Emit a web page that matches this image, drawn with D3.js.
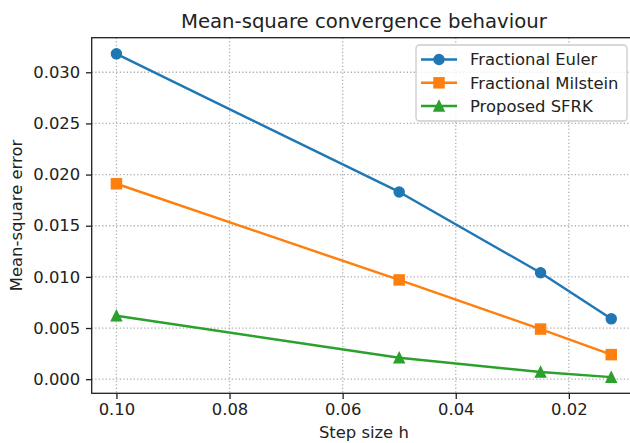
<!DOCTYPE html>
<head>
  <meta charset="utf-8">
  <script src="https://d3js.org/d3.v7.min.js"></script>
  <style>
    body { margin:0; background:#fff; }
    svg { display:block; font-family: "DejaVu Sans", sans-serif; }
  </style>
</head>
<body>
  <script>
    // step sizes and errors
    var steps = [0.1, 0.05, 0.025, 0.0125],
        euler = [0.0318, 0.0183, 0.0104, 0.0059],
        milstein = [0.0191, 0.0097, 0.0049, 0.0024],
        sfrk = [0.0062, 0.0021, 0.0007, 0.0002],
        xTicks = [0.10, 0.08, 0.06, 0.04, 0.02],
        yTicks = [0, 0.005, 0.010, 0.015, 0.020, 0.025, 0.030];

    var series = [
      { name: "Fractional Euler", values: euler, color: "#1f77b4", marker: "circle" },
      { name: "Fractional Milstein", values: milstein, color: "#ff7f0e", marker: "square" },
      { name: "Proposed SFRK", values: sfrk, color: "#2ca02c", marker: "triangle" }
    ];

    var W = 630, H = 443,
        pl = 91.7, pr = 636, pt = 37.7, pb = 393.3,
        pt2px = 1.64, fs = 16.4;

    var svg = d3.select("body").append("svg")
        .attr("width", W).attr("height", H);

    // matplotlib-like 5% margins
    function padded(ext) {
      var m = (ext[1] - ext[0]) * 0.05;
      return [ext[0] - m, ext[1] + m];
    }
    var xd = padded(d3.extent(steps)),
        yd = padded(d3.extent(d3.merge([euler, milstein, sfrk])));

    var x = d3.scaleLinear().domain([xd[1], xd[0]]).range([pl, pr]);
    var y = d3.scaleLinear().domain(yd).range([pb, pt]);

    // grid
    var grid = svg.append("g").attr("stroke", "#b0b0b0").attr("stroke-width", 0.8 * pt2px)
        .attr("stroke-dasharray", "1.3,2.2");
    grid.selectAll(".gx").data(xTicks).enter().append("line")
        .attr("x1", x).attr("x2", x).attr("y1", pt).attr("y2", pb);
    grid.selectAll(".gy").data(yTicks).enter().append("line")
        .attr("y1", y).attr("y2", y).attr("x1", pl).attr("x2", pr);

    // axes
    var tl = 3.5 * pt2px;
    var xAxis = svg.append("g").attr("transform", "translate(0," + pb + ")")
        .call(d3.axisBottom(x).tickValues(xTicks).tickFormat(d3.format(".2f"))
          .tickSizeInner(tl).tickSizeOuter(0).tickPadding(tl - 1));
    var yAxis = svg.append("g").attr("transform", "translate(" + pl + ",0)")
        .call(d3.axisLeft(y).tickValues(yTicks).tickFormat(d3.format(".3f"))
          .tickSizeInner(tl).tickSizeOuter(0).tickPadding(tl));
    [xAxis, yAxis].forEach(function(a) {
      a.select(".domain").remove();
      a.selectAll("line").attr("stroke", "#222").attr("stroke-width", 0.8 * pt2px);
      a.selectAll("text").attr("fill", "#222").style("font-size", fs + "px")
        .style("font-family", "DejaVu Sans");
    });

    // spines
    svg.append("rect").attr("x", pl).attr("y", pt)
        .attr("width", pr - pl).attr("height", pb - pt)
        .attr("fill", "none").attr("stroke", "#222").attr("stroke-width", 0.8 * pt2px);

    // lines and markers
    var line = d3.line().x(function(d) { return x(d[0]); }).y(function(d) { return y(d[1]); });
    var ms = 6 * pt2px;
    function drawMarker(g, type, cx, cy) {
      if (type === "circle") {
        g.append("circle").attr("cx", cx).attr("cy", cy).attr("r", ms / 2);
      } else if (type === "square") {
        g.append("rect").attr("x", cx - ms / 2).attr("y", cy - ms / 2)
          .attr("width", ms).attr("height", ms);
      } else {
        var h = ms / 2;
        g.append("path").attr("d", "M" + cx + "," + (cy - h) + "L" + (cx - h) + "," + (cy + h) +
          "L" + (cx + h) + "," + (cy + h) + "Z");
      }
    }

    series.forEach(function(s) {
      var pts = steps.map(function(h, i) { return [h, s.values[i]]; });
      svg.append("path").datum(pts).attr("d", line)
        .attr("fill", "none").attr("stroke", s.color).attr("stroke-width", 1.5 * pt2px)
        .attr("stroke-linejoin", "round");
      var g = svg.append("g").attr("fill", s.color).attr("stroke", s.color).attr("stroke-width", pt2px);
      pts.forEach(function(p) { drawMarker(g, s.marker, x(p[0]), y(p[1])); });
    });

    // legend
    var lg = svg.append("g");
    lg.append("rect").attr("x", 416).attr("y", 45).attr("width", 211).attr("height", 76)
        .attr("rx", 3.5).attr("fill", "#fff").attr("fill-opacity", 0.8)
        .attr("stroke", "#cccccc").attr("stroke-width", 0.8 * pt2px);
    series.forEach(function(s, i) {
      var ly = 59.5 + i * 23.3;
      lg.append("line").attr("x1", 421).attr("x2", 457).attr("y1", ly).attr("y2", ly)
        .attr("stroke", s.color).attr("stroke-width", 1.5 * pt2px);
      var g = lg.append("g").attr("fill", s.color).attr("stroke", s.color).attr("stroke-width", pt2px);
      drawMarker(g, s.marker, 439, ly);
      lg.append("text").attr("x", 470).attr("y", ly).attr("dy", "0.36em")
        .style("font-size", fs + "px").attr("fill", "#222").text(s.name);
    });

    // titles
    svg.append("text").attr("x", (pl + pr) / 2).attr("y", 28)
        .attr("text-anchor", "middle").style("font-size", (fs * 1.2) + "px").attr("fill", "#222")
        .text("Mean-square convergence behaviour");
    svg.append("text").attr("x", (pl + pr) / 2).attr("y", 438)
        .attr("text-anchor", "middle").style("font-size", fs + "px").attr("fill", "#222")
        .text("Step size h");
    svg.append("text").attr("transform", "translate(22," + ((pt + pb) / 2) + ") rotate(-90)")
        .attr("text-anchor", "middle").style("font-size", fs + "px").attr("fill", "#222")
        .text("Mean-square error");
  </script>
</body>
</html>
